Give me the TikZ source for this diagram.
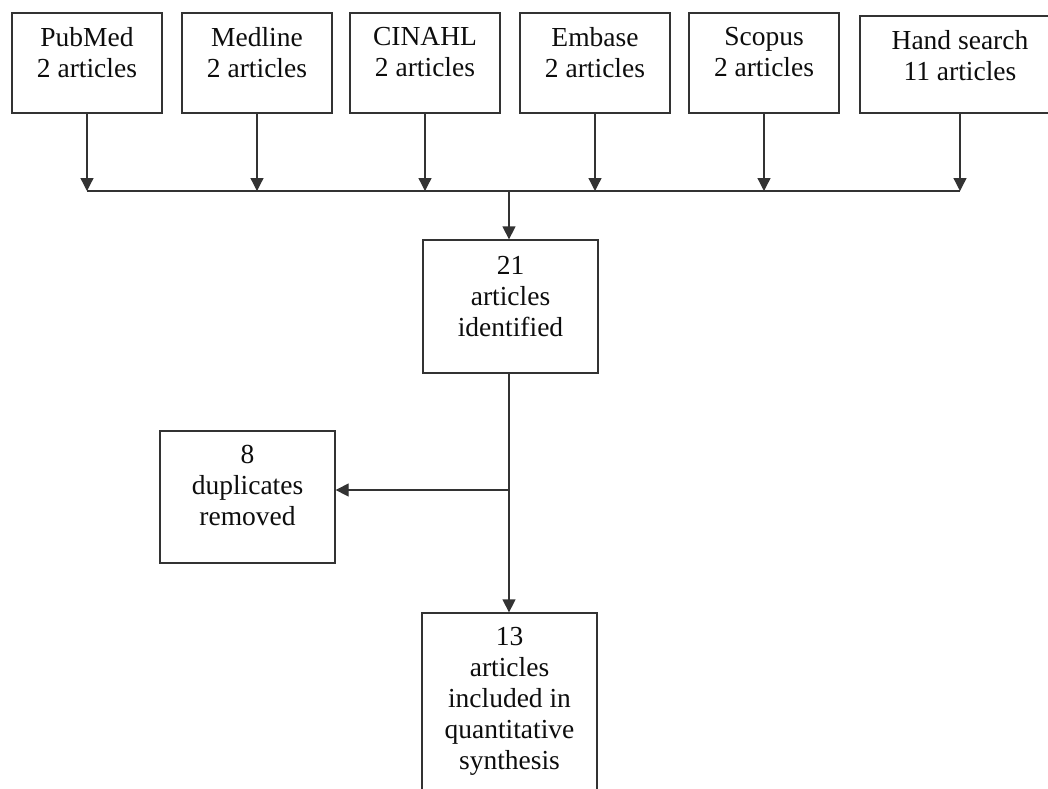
\documentclass[tikz,border=0pt]{standalone}
\usepackage{fontspec}
\setmainfont{Liberation Serif}
\usetikzlibrary{arrows.meta}
\tikzset{
  box/.style={draw=black!80, line width=1.3pt, fill=white, inner sep=0pt},
  lab/.style={anchor=north, align=center, yshift=-12pt, inner sep=3pt,
              font=\fontsize{27.5}{31}\selectfont, text=black!95},
  conn/.style={draw=black!80, line width=1.3pt},
  arr/.style={conn, -{Triangle[length=13pt,width=13pt]}},
}
\begin{document}
\begin{tikzpicture}[x=1pt,y=-1pt]
\clip (0,0) rectangle (1048,788);
\fill[white] (0,0) rectangle (1048,788);
% top source boxes
\node[box, minimum width=150pt, minimum height=100pt, label={[lab]north:PubMed\\2 articles}] (pubmed) at (87,63) {};
\node[box, minimum width=150pt, minimum height=100pt, label={[lab]north:Medline\\2 articles}] (medline) at (257,63) {};
\node[box, minimum width=150pt, minimum height=100pt, label={[lab]north:CINAHL\\2 articles}] (cinahl) at (425,63) {};
\node[box, minimum width=150pt, minimum height=100pt, label={[lab]north:Embase\\2 articles}] (embase) at (595,63) {};
\node[box, minimum width=150pt, minimum height=100pt, label={[lab]north:Scopus\\2 articles}] (scopus) at (764,63) {};
\node[box, minimum width=200pt, minimum height=97pt, label={[lab]north:Hand search\\11 articles}] (hand) at (960,64.5) {};
% middle boxes
\node[box, minimum width=175pt, minimum height=133pt, label={[lab, yshift=-2pt]north:21\\articles\\identified}] (ident) at (510.5,306.5) {};
\node[box, minimum width=175pt, minimum height=132pt, label={[lab]north:8\\duplicates\\removed}] (dup) at (247.5,497) {};
\node[box, minimum width=175pt, minimum height=190pt, label={[lab]north:13\\articles\\included in\\quantitative\\synthesis}] (incl) at (509.5,708) {};
% connectors
\coordinate (bus) at (509,191);
\coordinate (branch) at (509,490);
\foreach \n in {pubmed,medline,cinahl,embase,scopus,hand}{
  \draw[arr] (\n.south) -- (\n.south |- bus);
}
\draw[conn] (pubmed.south |- bus) -- (hand.south |- bus);
\draw[arr] (bus) -- (bus |- ident.north);
\draw[arr] (ident.south -| bus) -- (bus |- incl.north);
\draw[arr] (branch) -- (dup.east |- branch);
\end{tikzpicture}
\end{document}
